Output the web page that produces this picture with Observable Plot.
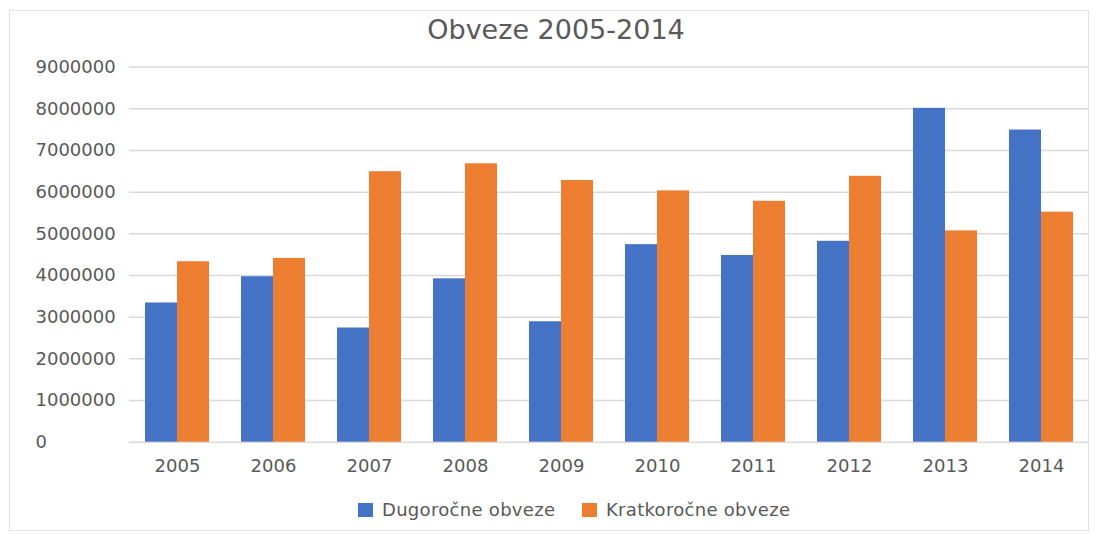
<!DOCTYPE html>
<html>
<head>
<meta charset="utf-8">
<script src="https://cdn.jsdelivr.net/npm/d3@7"></script>
<script src="https://cdn.jsdelivr.net/npm/@observablehq/plot@0.6"></script>
<style>
  html, body { margin: 0; padding: 0; background: #fff; }
  #wrap { position: relative; width: 1099px; height: 534px; overflow: hidden; font-family: "DejaVu Sans", sans-serif; color: #595959; }
  #frame { position: absolute; left: 9px; top: 10px; width: 1080px; height: 521px; border: 1.5px solid #e3e3e3; box-sizing: border-box; }
  #chart { position: absolute; left: 0; top: 0; }
  #title { position: absolute; left: 0; width: 1112px; top: 14px; text-align: center; font-size: 27px; line-height: 32px; color: #595959; }
  #legend { position: absolute; top: 499px; left: 0; width: 1099px; height: 22px; font-size: 18px; line-height: 22px; letter-spacing: 0.3px; }
  .item { position: absolute; top: 0; white-space: nowrap; }
  .sw { display: inline-block; width: 15px; height: 14px; vertical-align: -1px; margin-right: 9px; }
</style>
</head>
<body>
<div id="wrap">
  <div id="frame"></div>
  <div id="chart"></div>
  <div id="title">Obveze 2005-2014</div>
  <div id="legend"></div>
</div>
<script>
const years = ["2005","2006","2007","2008","2009","2010","2011","2012","2013","2014"];
const seriesNames = ["Dugoročne obveze", "Kratkoročne obveze"];
const dugorocne = [3340000, 3970000, 2740000, 3920000, 2890000, 4740000, 4480000, 4820000, 8010000, 7490000];
const kratkorocne = [4330000, 4410000, 6490000, 6680000, 6280000, 6030000, 5780000, 6380000, 5070000, 5520000];
const yTicks = [0,1000000,2000000,3000000,4000000,5000000,6000000,7000000,8000000,9000000];
const colors = ["#4472C4", "#ED7D31"];

const dataA = years.map((y, i) => ({year: y, value: dugorocne[i]}));
const dataB = years.map((y, i) => ({year: y, value: kratkorocne[i]}));

const W = 1099, H = 534;
const mL = 129, mR = 10, mT = 66.6, mB = 92.3;
const step = (W - mL - mR) / (years.length - 1/3 + 1/3);
const half = step * (2/3) / 2;

const chart = Plot.plot({
  width: W,
  height: H,
  marginLeft: mL,
  marginRight: mR,
  marginTop: mT,
  marginBottom: mB,
  style: { fontFamily: "DejaVu Sans, sans-serif", fontSize: "18px", color: "#595959", background: "transparent", overflow: "visible" },
  x: { domain: years, paddingInner: 1/3, paddingOuter: 1/6, label: null },
  y: { domain: [0, 9000000], label: null },
  marks: [
    Plot.ruleY(yTicks, { stroke: "#d9d9d9", strokeWidth: 1.5 }),
    Plot.barY(dataA, { x: "year", y: "value", fill: colors[0], insetRight: half }),
    Plot.barY(dataB, { x: "year", y: "value", fill: colors[1], insetLeft: half }),
    Plot.axisX({ tickSize: 0, tickPadding: 17, fill: "#595959", fontSize: 18 }),
    Plot.axisY({ ticks: yTicks, tickSize: 0, tickPadding: 0, textAnchor: "start", dx: 35 - mL, tickFormat: d => String(d), fill: "#595959", fontSize: 18 })
  ]
});
document.getElementById("chart").appendChild(chart);

const legend = document.getElementById("legend");
const positions = [358, 582];
seriesNames.forEach((name, i) => {
  const it = document.createElement("div");
  it.className = "item";
  it.style.left = positions[i] + "px";
  it.innerHTML = `<span class="sw" style="background:${colors[i]}"></span>${name}`;
  legend.appendChild(it);
});
</script>
</body>
</html>
